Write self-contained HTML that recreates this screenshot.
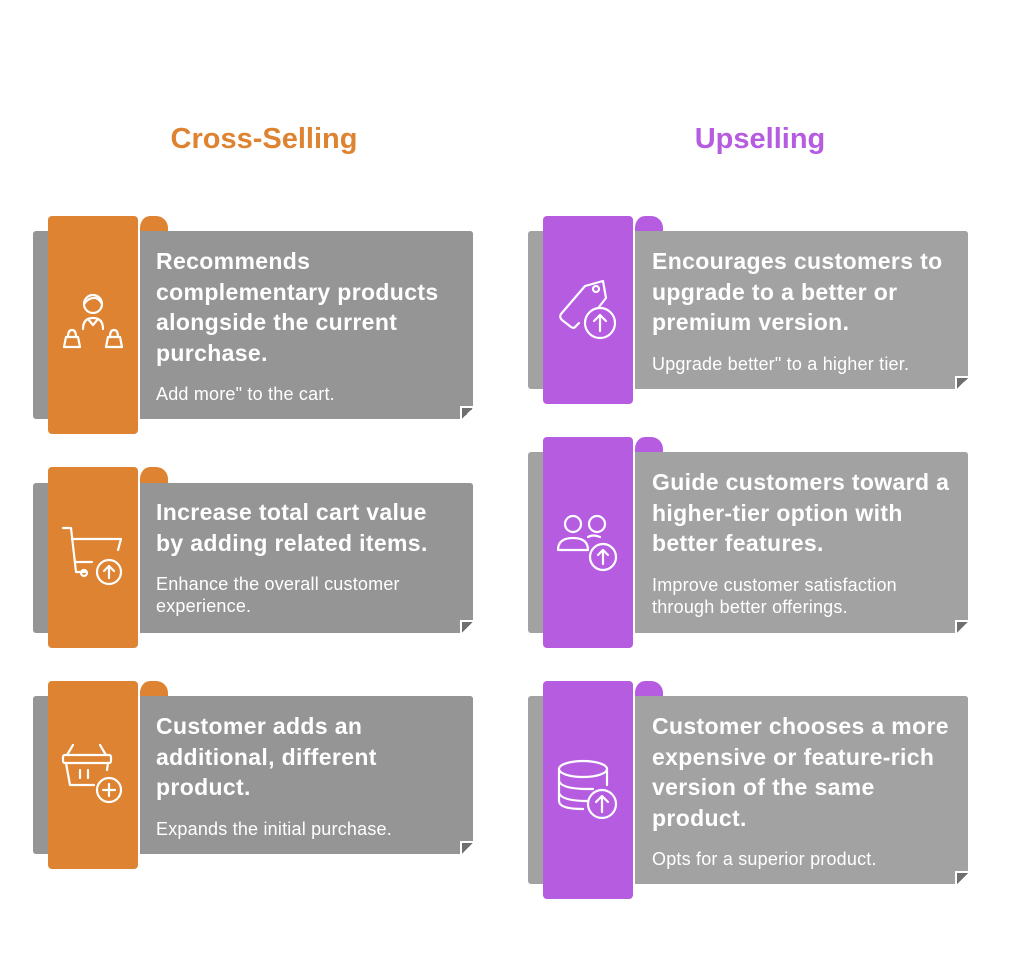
<!DOCTYPE html>
<html><head><meta charset="utf-8"><style>
body{margin:0;width:1024px;height:962px;background:#fff;position:relative;overflow:hidden;font-family:"Liberation Sans",sans-serif}
.t{position:absolute;font-weight:bold;font-size:29px;text-align:center;width:300px;top:123px}
.back{position:absolute;border-radius:3px}
.tab{position:absolute;border-radius:4px}
.curl{position:absolute;border-radius:12px 12px 0 0;border-left:2px solid #fff}
.body{position:absolute;border-left:2px solid #fff;border-radius:0 3px 3px 0}
.fold{position:absolute;width:13px;height:13px;right:0;bottom:0;box-sizing:border-box;border-top:2px solid #fff;border-left:2px solid #fff;background:linear-gradient(135deg,#6f6f6f 0 50%,#fff 50%)}
.h{position:absolute;color:#fff;font-weight:bold;font-size:23px;letter-spacing:0.35px;line-height:30.5px;white-space:nowrap}
.s{position:absolute;color:#fff;font-size:18px;letter-spacing:0.2px;line-height:22px;white-space:nowrap}
svg{position:absolute}
</style></head><body>
<div class="t" style="left:114px;color:#DD8331">Cross-Selling</div>
<div class="t" style="left:610px;color:#B65CE0">Upselling</div>

<!-- Left 1 -->
<div class="back" style="left:33px;top:231px;width:440px;height:188px;background:#959595"></div>
<div class="tab" style="left:48px;top:216px;width:90px;height:218px;background:#DD8331"></div>
<div class="curl" style="left:138px;top:216px;width:28px;height:15px;background:#DD8331"></div>
<div class="body" style="left:138px;top:231px;width:333px;height:188px;background:#959595"><div class="fold"></div></div>
<div class="h" style="left:156px;top:246px">Recommends<br>complementary products<br>alongside the current<br>purchase.</div>
<div class="s" style="left:156px;top:383px">Add more" to the cart.</div>
<svg style="left:60px;top:290px" width="66" height="68" viewBox="0 0 66 68" fill="none" stroke="#fff" stroke-width="2.2" stroke-linecap="round" stroke-linejoin="round">
<circle cx="33" cy="14" r="9"/><path d="M24 14 Q29 7 36 8 Q40 10 42 14"/><path d="M23 39 Q23 28 33 28 Q43 28 43 39"/><path d="M28 29 L33 35 L38 29"/>
<path d="M4 57 L6 47 L18 47 L20 57 Z"/><path d="M8 47 Q8 40 12 40 Q16 40 16 47"/>
<path d="M46 57 L48 47 L60 47 L62 57 Z"/><path d="M50 47 Q50 40 54 40 Q58 40 58 47"/></svg>

<!-- Left 2 -->
<div class="back" style="left:33px;top:483px;width:440px;height:150px;background:#959595"></div>
<div class="tab" style="left:48px;top:467px;width:90px;height:181px;background:#DD8331"></div>
<div class="curl" style="left:138px;top:467px;width:28px;height:16px;background:#DD8331"></div>
<div class="body" style="left:138px;top:483px;width:333px;height:150px;background:#959595"><div class="fold"></div></div>
<div class="h" style="left:156px;top:497px">Increase total cart value<br>by adding related items.</div>
<div class="s" style="left:156px;top:573px">Enhance the overall customer<br>experience.</div>
<svg style="left:60px;top:524px" width="66" height="66" viewBox="0 0 66 66" fill="none" stroke="#fff" stroke-width="2.2" stroke-linecap="round" stroke-linejoin="round">
<path d="M3 4 L11 4 L16 48 L25 48"/><path d="M12 15 L61 15 L58 26"/><path d="M15 38 L32 38"/><circle cx="24" cy="49" r="3"/>
<circle cx="49" cy="48" r="12"/><path d="M49 54 L49 42 M44 47 L49 42 L54 47"/></svg>

<!-- Left 3 -->
<div class="back" style="left:33px;top:696px;width:440px;height:158px;background:#959595"></div>
<div class="tab" style="left:48px;top:681px;width:90px;height:188px;background:#DD8331"></div>
<div class="curl" style="left:138px;top:681px;width:28px;height:15px;background:#DD8331"></div>
<div class="body" style="left:138px;top:696px;width:333px;height:158px;background:#959595"><div class="fold"></div></div>
<div class="h" style="left:156px;top:711px">Customer adds an<br>additional, different<br>product.</div>
<div class="s" style="left:156px;top:818px">Expands the initial purchase.</div>
<svg style="left:60px;top:740px" width="66" height="66" viewBox="0 0 66 66" fill="none" stroke="#fff" stroke-width="2.2" stroke-linecap="round" stroke-linejoin="round">
<path d="M13 5 L7 15 M40 5 L46 15"/><rect x="3" y="15" width="48" height="8" rx="2"/><path d="M6 23 L10 45 L34 45"/><path d="M48 23 L47 30"/><path d="M20 30 L20 38 M28 30 L28 38"/>
<circle cx="49" cy="50" r="12"/><path d="M49 44 L49 56 M43 50 L55 50"/></svg>

<!-- Right 1 -->
<div class="back" style="left:528px;top:231px;width:440px;height:158px;background:#a2a2a2"></div>
<div class="tab" style="left:543px;top:216px;width:90px;height:188px;background:#B65CE0"></div>
<div class="curl" style="left:633px;top:216px;width:28px;height:15px;background:#B65CE0"></div>
<div class="body" style="left:633px;top:231px;width:333px;height:158px;background:#a2a2a2"><div class="fold"></div></div>
<div class="h" style="left:652px;top:246px">Encourages customers to<br>upgrade to a better or<br>premium version.</div>
<div class="s" style="left:652px;top:353px">Upgrade better" to a higher tier.</div>
<svg style="left:555px;top:277px" width="66" height="66" viewBox="0 0 66 66" fill="none" stroke="#fff" stroke-width="2.2" stroke-linecap="round" stroke-linejoin="round">
<path d="M6 37 L30 9 L48 4 L51 21 L44 30"/><path d="M6 37 Q4 40 7 43 L16 50 Q19 52 21 49 L24 46"/><circle cx="41" cy="12" r="3"/>
<circle cx="45" cy="46" r="15"/><path d="M45 54 L45 38 M39 44 L45 38 L51 44"/></svg>

<!-- Right 2 -->
<div class="back" style="left:528px;top:452px;width:440px;height:181px;background:#a2a2a2"></div>
<div class="tab" style="left:543px;top:437px;width:90px;height:211px;background:#B65CE0"></div>
<div class="curl" style="left:633px;top:437px;width:28px;height:15px;background:#B65CE0"></div>
<div class="body" style="left:633px;top:452px;width:333px;height:181px;background:#a2a2a2"><div class="fold"></div></div>
<div class="h" style="left:652px;top:467px">Guide customers toward a<br>higher-tier option with<br>better features.</div>
<div class="s" style="left:652px;top:574px">Improve customer satisfaction<br>through better offerings.</div>
<svg style="left:555px;top:510px" width="66" height="66" viewBox="0 0 66 66" fill="none" stroke="#fff" stroke-width="2.2" stroke-linecap="round" stroke-linejoin="round">
<circle cx="18" cy="14" r="8"/><circle cx="42" cy="14" r="8"/><path d="M3 40 Q3 28 18 28 Q33 28 33 40 Z"/><path d="M33 27 Q38 24 45 27"/>
<circle cx="48" cy="47" r="13"/><path d="M48 54 L48 40 M43 45 L48 40 L53 45"/></svg>

<!-- Right 3 -->
<div class="back" style="left:528px;top:696px;width:440px;height:188px;background:#a2a2a2"></div>
<div class="tab" style="left:543px;top:681px;width:90px;height:218px;background:#B65CE0"></div>
<div class="curl" style="left:633px;top:681px;width:28px;height:15px;background:#B65CE0"></div>
<div class="body" style="left:633px;top:696px;width:333px;height:188px;background:#a2a2a2"><div class="fold"></div></div>
<div class="h" style="left:652px;top:711px">Customer chooses a more<br>expensive or feature-rich<br>version of the same<br>product.</div>
<div class="s" style="left:652px;top:848px">Opts for a superior product.</div>
<svg style="left:555px;top:757px" width="66" height="66" viewBox="0 0 66 66" fill="none" stroke="#fff" stroke-width="2.2" stroke-linecap="round" stroke-linejoin="round">
<ellipse cx="28" cy="12" rx="24" ry="8"/><path d="M4 12 L4 44 Q4 52 28 52"/><path d="M52 12 L52 28"/><path d="M4 24 Q6 31 28 32 L38 32"/><path d="M4 36 Q6 43 28 44 L33 44"/>
<circle cx="47" cy="47" r="14"/><path d="M47 55 L47 39 M41 45 L47 39 L53 45"/></svg>
</body></html>
